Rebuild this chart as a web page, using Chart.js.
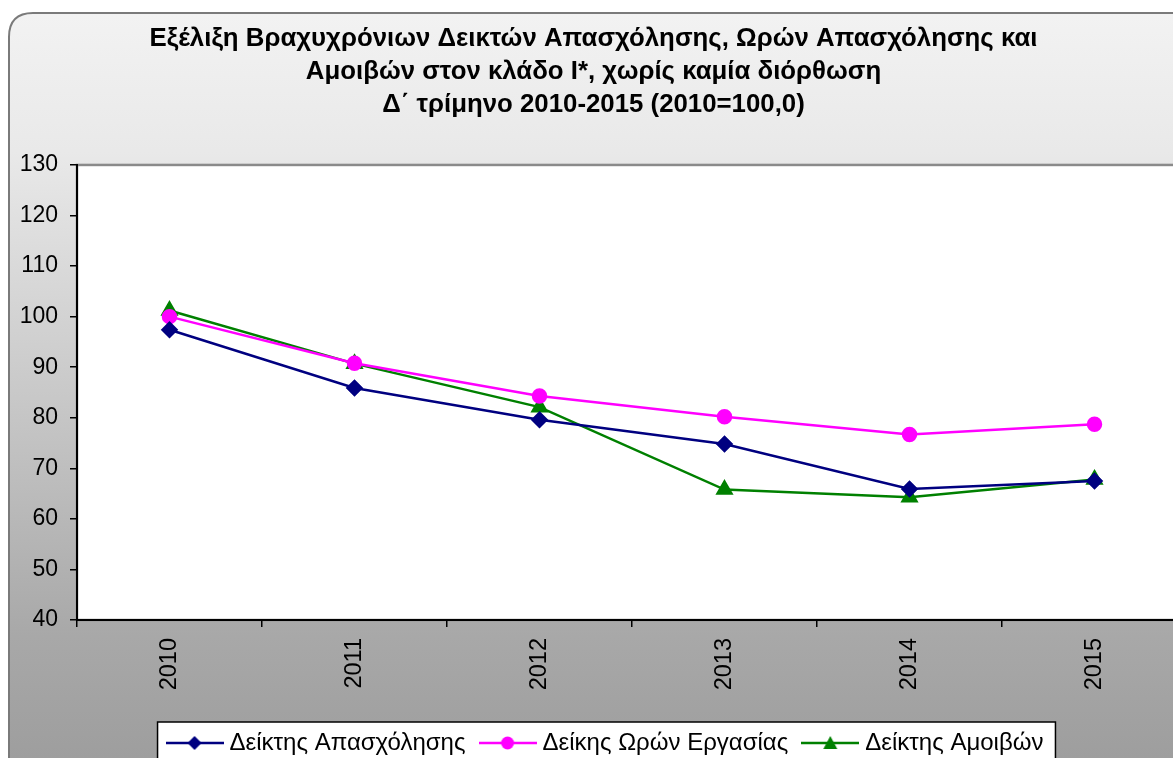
<!DOCTYPE html>
<html>
<head>
<meta charset="utf-8">
<script src="https://cdn.jsdelivr.net/npm/chart.js@4.4.0/dist/chart.umd.min.js"></script>
<style>
    html, body { margin: 0; padding: 0; background: #fff; }
    #wrap { width: 1173px; height: 758px; overflow: hidden; position: relative; }
    #wrap canvas { position: absolute; left: 0; top: 0; }
</style>
</head>
<body>
<div id="wrap">
    <canvas id="indexChart" width="1200" height="758" style="width:1200px;height:758px"></canvas>
</div>
<script>
// --- Chart data ---
const years = ['2010', '2011', '2012', '2013', '2014', '2015'];
const employmentIndex = [97.4, 85.9, 79.6, 74.8, 65.9, 67.5];
const hoursIndex = [100.0, 90.8, 84.3, 80.2, 76.7, 78.7];
const wagesIndex = [101.2, 90.7, 82.1, 65.8, 64.3, 67.8];
const seriesNames = ['Δείκτης Απασχόλησης', 'Δείκης Ωρών Εργασίας', 'Δείκτης Αμοιβών'];
const titleLines = [
    'Εξέλιξη Βραχυχρόνιων Δεικτών Απασχόλησης, Ωρών Απασχόλησης και',
    'Αμοιβών στον κλάδο Ι*, χωρίς καμία διόρθωση',
    'Δ΄ τρίμηνο 2010-2015 (2010=100,0)'
];

const FONT = '"Liberation Sans", Arial, sans-serif';

// Small legend picture: a line with the series marker in the middle
function legendSymbol(color, shape) {
    const c = document.createElement('canvas');
    c.width = 58; c.height = 20;
    const g = c.getContext('2d');
    g.strokeStyle = color;
    g.lineWidth = 2.5;
    g.beginPath();
    g.moveTo(0, 10); g.lineTo(58, 10);
    g.stroke();
    g.fillStyle = color;
    g.beginPath();
    if (shape === 'diamond') {
        g.moveTo(29, 3); g.lineTo(36, 10); g.lineTo(29, 17); g.lineTo(22, 10);
    } else if (shape === 'circle') {
        g.arc(29, 10, 6.5, 0, Math.PI * 2);
    } else {
        g.moveTo(29, 3); g.lineTo(36, 16); g.lineTo(22, 16);
    }
    g.closePath();
    g.fill();
    return c;
}

// Background: rounded gray gradient frame, white plot area
const frameBackground = {
    id: 'frameBackground',
    beforeDraw(chart) {
        const ctx = chart.ctx;
        const w = chart.width, h = chart.height;
        ctx.save();
        ctx.fillStyle = '#ffffff';
        ctx.fillRect(0, 0, w, h);

        const grad = ctx.createLinearGradient(0, 0, 0, h);
        grad.addColorStop(0, '#f3f3f3');
        grad.addColorStop(0.2, '#e9e9e9');
        grad.addColorStop(0.84, '#a8a8a8');
        grad.addColorStop(1, '#9e9e9e');

        const x0 = 9, y0 = 13, r = 24;
        const x1 = w + 20, y1 = h + 20;
        ctx.beginPath();
        ctx.moveTo(x0 + r, y0);
        ctx.lineTo(x1, y0);
        ctx.lineTo(x1, y1);
        ctx.lineTo(x0, y1);
        ctx.lineTo(x0, y0 + r);
        ctx.quadraticCurveTo(x0, y0, x0 + r, y0);
        ctx.closePath();
        ctx.fillStyle = grad;
        ctx.fill();
        ctx.lineWidth = 2;
        ctx.strokeStyle = '#7a7a7a';
        ctx.stroke();

        // plot area
        const a = chart.chartArea;
        ctx.fillStyle = '#ffffff';
        ctx.fillRect(a.left, a.top, a.right - a.left, a.bottom - a.top);
        ctx.lineWidth = 2.5;
        ctx.strokeStyle = '#8a8a8a';
        ctx.strokeRect(a.left, a.top, a.right - a.left, a.bottom - a.top);
        ctx.restore();
    }
};

// Black box around the legend, like the original
function legendRect(chart) {
    const lg = chart.legend;
    if (!lg || !lg.legendHitBoxes || !lg.legendHitBoxes.length) return null;
    const boxes = lg.legendHitBoxes;
    const first = boxes[0], last = boxes[boxes.length - 1];
    const cy = first.top + first.height / 2;
    const left = first.left - 14;
    return { x: left, y: cy - 21, w: (last.left + last.width + 12) - left, h: 42 };
}

const legendFrame = {
    id: 'legendFrame',
    afterLayout(chart) {
        // nudge the legend a bit right, the original is not centred on the page
        if (chart.legend) {
            chart.legend.left += 14;
            chart.legend.right += 14;
        }
    },
    beforeDraw(chart) {
        const r = legendRect(chart);
        if (!r) return;
        chart.ctx.save();
        chart.ctx.fillStyle = '#ffffff';
        chart.ctx.fillRect(r.x, r.y, r.w, r.h);
        chart.ctx.restore();
    },
    afterDraw(chart) {
        const r = legendRect(chart);
        if (!r) return;
        const ctx = chart.ctx;
        ctx.save();
        ctx.lineWidth = 1.5;
        ctx.strokeStyle = '#000000';
        ctx.strokeRect(r.x, r.y, r.w, r.h);
        ctx.restore();
    }
};

const symbols = [
    legendSymbol('#000080', 'diamond'),
    legendSymbol('#ff00ff', 'circle'),
    legendSymbol('#008000', 'triangle')
];

new Chart(document.getElementById('indexChart'), {
    type: 'line',
    data: {
        labels: years,
        datasets: [{
            label: seriesNames[0],
            data: employmentIndex,
            borderColor: '#000080',
            backgroundColor: '#000080',
            borderWidth: 2.5,
            pointStyle: 'rectRot',
            pointRadius: 7,
            tension: 0
        }, {
            label: seriesNames[1],
            data: hoursIndex,
            borderColor: '#ff00ff',
            backgroundColor: '#ff00ff',
            borderWidth: 2.5,
            pointStyle: 'circle',
            pointRadius: 6.5,
            tension: 0
        }, {
            label: seriesNames[2],
            data: wagesIndex,
            borderColor: '#008000',
            backgroundColor: '#008000',
            borderWidth: 2.5,
            pointStyle: 'triangle',
            pointRadius: 8,
            tension: 0
        }]
    },
    options: {
        responsive: false,
        animation: false,
        layout: { padding: { left: 0, right: 13, top: 0, bottom: -7 } },
        scales: {
            x: {
                offset: true,
                grid: { offset: true, drawOnChartArea: false, tickLength: 7, color: '#000000', lineWidth: 1.5 },
                border: { color: '#000000', width: 2 },
                ticks: {
                    minRotation: 90, maxRotation: 90,
                    padding: 11,
                    color: '#000000',
                    font: { family: FONT, size: 23.5 }
                },
                afterFit(scale) { scale.height = 92; }
            },
            y: {
                min: 40, max: 130,
                ticks: {
                    stepSize: 10,
                    padding: 12,
                    color: '#000000',
                    font: { family: FONT, size: 23 }
                },
                grid: { drawOnChartArea: false, tickLength: 7, color: '#000000', lineWidth: 1.5 },
                border: { color: '#000000', width: 2 },
                afterFit(scale) { scale.width = 77; }
            }
        },
        plugins: {
            title: {
                display: true,
                text: titleLines,
                color: '#000000',
                font: { family: FONT, size: 25.8, weight: 'bold', lineHeight: 1.285 },
                padding: { top: 22, bottom: 43.5 }
            },
            legend: {
                position: 'bottom',
                labels: {
                    usePointStyle: true,
                    pointStyleWidth: 46,
                    padding: 19,
                    color: '#000000',
                    font: { family: FONT, size: 24 },
                    generateLabels(chart) {
                        return chart.data.datasets.map((ds, i) => ({
                            text: ds.label,
                            pointStyle: symbols[i],
                            fillStyle: ds.backgroundColor,
                            strokeStyle: ds.borderColor,
                            lineWidth: 0,
                            hidden: false,
                            datasetIndex: i,
                            fontColor: '#000000'
                        }));
                    }
                }
            },
            tooltip: { enabled: false }
        }
    },
    plugins: [frameBackground, legendFrame]
});
</script>
</body>
</html>
